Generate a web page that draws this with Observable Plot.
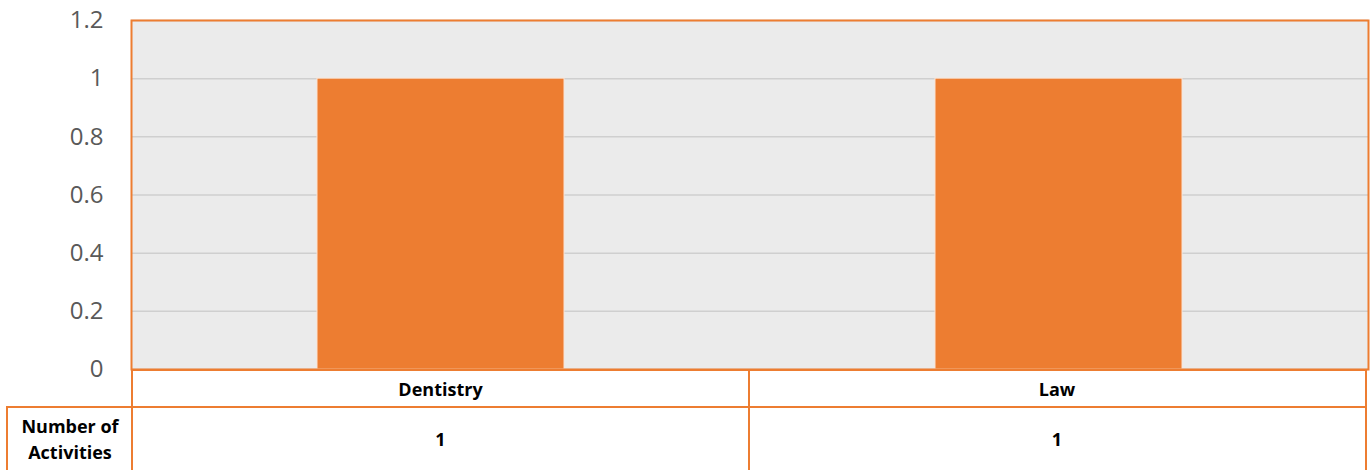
<!DOCTYPE html>
<html>
<head>
<meta charset="utf-8">
<script src="https://cdn.jsdelivr.net/npm/d3@7"></script>
<script src="https://cdn.jsdelivr.net/npm/@observablehq/plot@0.6"></script>
<style>
  html, body { margin: 0; padding: 0; background: #fff; }
  #wrap { position: relative; width: 1370px; height: 470px; font-family: "Open Sans", "Liberation Sans", sans-serif; }
  #wrap svg { position: absolute; left: 0; top: 0; overflow: visible; }
  .cell { position: absolute; box-sizing: border-box; display: flex; align-items: center; justify-content: center; text-align: center; font-weight: bold; font-size: 18px; color: #000; line-height: 1.45; }
</style>
</head>
<body>
<div id="wrap"></div>
<script>
const categories = ["Dentistry", "Law"];
const values = [1, 1];
const yTicks = [0, 0.2, 0.4, 0.6, 0.8, 1, 1.2];
const yTickLabels = ["0", "0.2", "0.4", "0.6", "0.8", "1", "1.2"];
const rowLabel = "Number of Activities";

const data = categories.map((c, i) => ({category: c, value: values[i]}));
const orange = "#ED7D31";

const W = 1370, H = 371;
const mL = 131, mR = 2, mT = 20, mB = 2;

const chart = Plot.plot({
  width: W,
  height: H,
  marginLeft: mL,
  marginRight: mR,
  marginTop: mT,
  marginBottom: mB,
  style: {background: "transparent", overflow: "visible", fontFamily: "'Open Sans', 'Liberation Sans', sans-serif"},
  x: {type: "band", domain: categories, paddingInner: 0.6, paddingOuter: 0.3, axis: null},
  y: {domain: [0, 1.2], ticks: yTicks, label: null},
  marks: [
    Plot.frame({fill: "#ebebeb", stroke: null}),
    Plot.ruleY(yTicks, {stroke: "#cfcfcf", strokeWidth: 1.5}),
    Plot.barY(data, {x: "category", y: "value", fill: orange, stroke: "#fbe3d3", strokeWidth: 1}),
    Plot.frame({stroke: orange, strokeWidth: 2, fill: null}),
    Plot.axisY({ticks: yTicks, tickSize: 0, tickPadding: 28, fontSize: 24, color: "#595959", tickFormat: (d) => yTickLabels[yTicks.indexOf(d)], label: null})
  ]
});

const wrap = document.getElementById("wrap");
wrap.appendChild(chart);

// Data table below the plot, aligned to the x band scale
const xs = chart.scale("x");
const ys = chart.scale("y");
const y0 = ys.apply(0);
const step = xs.step;
const left0 = mL;
const rowTop1 = y0, rowH1 = 37;
const rowTop2 = rowTop1 + rowH1, rowH2 = 470 - rowTop2;

function cell(x, y, w, h, text, borders) {
  const d = document.createElement("div");
  d.className = "cell";
  d.style.left = x + "px";
  d.style.top = y + "px";
  d.style.width = w + "px";
  d.style.height = h + "px";
  const b = `2px solid ${orange}`;
  d.style.borderLeft = borders.includes("l") ? b : "none";
  d.style.borderRight = borders.includes("r") ? b : "none";
  d.style.borderTop = borders.includes("t") ? b : "none";
  d.style.borderBottom = borders.includes("b") ? b : "none";
  d.innerHTML = text;
  wrap.appendChild(d);
}

categories.forEach((c, i) => {
  const x = left0 + i * step;
  cell(x, rowTop1, step + (i === categories.length - 1 ? 0 : 1), rowH1 + 1, c, i === 0 ? "lrt" : "rt");
  cell(x, rowTop2, step + (i === categories.length - 1 ? 0 : 1), rowH2, String(values[i]), i === 0 ? "lrt" : "rt");
});
cell(6, rowTop2, left0 - 6 + 1, rowH2, rowLabel.replace(" Activities", "<br>Activities"), "lt");
</script>
</body>
</html>
